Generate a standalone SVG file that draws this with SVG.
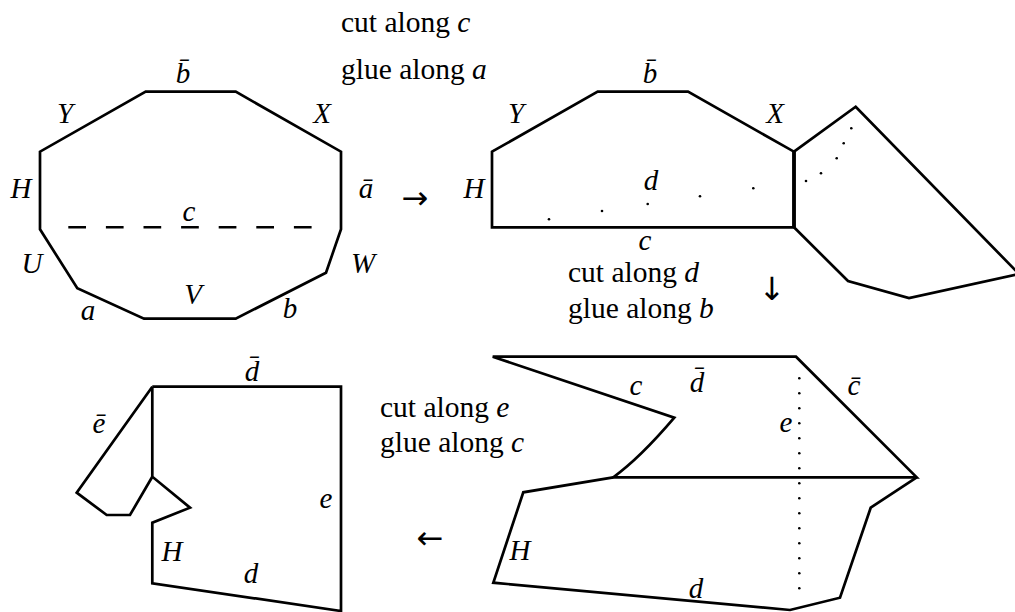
<svg xmlns="http://www.w3.org/2000/svg" width="1015" height="612" viewBox="0 0 1015 612">
<style>
.o{fill:none;stroke:#000;stroke-width:2.7;stroke-linejoin:miter}
.t{font-family:"Liberation Serif",serif;font-size:29.5px;fill:#000}
.m{font-family:"Liberation Serif",serif;font-style:italic;font-size:29px;fill:#000;text-anchor:middle}
.ar{font-family:"DejaVu Sans",sans-serif;font-size:32px;fill:#000;text-anchor:middle}
.dot{fill:#000}
</style>
<rect width="1015" height="612" fill="#fff"/>

<g id="step1">
<path class="o" d="M145.7,91.7 L235.7,91.7 L341,151.7 L341,229.3 L326,272.7 L235.7,318.7 L144,318.7 L77.3,288.3 L40,229.3 L40,151.7 Z"/>
<path d="M68.3,227.3 L312.3,227.3" stroke="#000" stroke-width="2.4" stroke-dasharray="17.7 19.9" fill="none"/>
<text class="m" x="183" y="83">b̄</text>
<text class="m" x="65" y="123">Y</text>
<text class="m" x="322" y="123">X</text>
<text class="m" x="21" y="198">H</text>
<text class="m" x="366" y="198">ā</text>
<text class="m" x="189" y="221">c</text>
<text class="m" x="32" y="273">U</text>
<text class="m" x="363" y="273">W</text>
<text class="m" x="193" y="304">V</text>
<text class="m" x="88" y="320">a</text>
<text class="m" x="290" y="318">b</text>
</g>

<g id="step2">
<path class="o" d="M492,151.7 L597.7,91.7 L688,91.7 L794,151.7 L794,227.3 L492,227.3 Z"/>
<path class="o" d="M794,151.7 L855.7,106.7 L1019,274 L909,298 L848,281 L794,227.3"/>
<path d="M794,151.7 L794,227.3" stroke="#000" stroke-width="3.8" fill="none"/>
<g class="dot">
<circle cx="549" cy="219.3" r="1.3"/>
<circle cx="602" cy="211" r="1.3"/>
<circle cx="647.7" cy="204" r="1.3"/>
<circle cx="700" cy="196.3" r="1.3"/>
<circle cx="753.3" cy="188.3" r="1.3"/>
<circle cx="806" cy="181" r="1.3"/>
<circle cx="821" cy="173.3" r="1.3"/>
<circle cx="836.7" cy="158.3" r="1.3"/>
<circle cx="843.7" cy="143.3" r="1.3"/>
<circle cx="851.3" cy="128.3" r="1.3"/>
</g>
<text class="m" x="650" y="83">b̄</text>
<text class="m" x="516" y="123">Y</text>
<text class="m" x="775" y="123">X</text>
<text class="m" x="474" y="198">H</text>
<text class="m" x="651" y="190">d</text>
<text class="m" x="645" y="250">c</text>
</g>

<g id="step3">
<path class="o" d="M492.7,356.7 L796,356.7 L916.7,477.3 L613.3,477.3 Q640,458 674.3,417.7 Z"/>
<path class="o" d="M613.3,477.3 L523.3,492.3 L493.3,582.7 L790,610 L840,597.7 L870.7,507.7 L916.7,477.3"/>
<g class="dot">
<circle cx="799.3" cy="378.3" r="1.3"/>
<circle cx="799.3" cy="393.3" r="1.3"/>
<circle cx="799.3" cy="408.3" r="1.3"/>
<circle cx="799.3" cy="423.3" r="1.3"/>
<circle cx="799.3" cy="438.3" r="1.3"/>
<circle cx="799.3" cy="453.3" r="1.3"/>
<circle cx="799.3" cy="468.3" r="1.3"/>
<circle cx="799.3" cy="483.3" r="1.3"/>
<circle cx="799.3" cy="498.3" r="1.3"/>
<circle cx="799.3" cy="513.3" r="1.3"/>
<circle cx="799.3" cy="528.3" r="1.3"/>
<circle cx="799.3" cy="543.3" r="1.3"/>
<circle cx="799.3" cy="558.3" r="1.3"/>
<circle cx="799.3" cy="573.3" r="1.3"/>
<circle cx="799.3" cy="588.3" r="1.3"/>
</g>
<text class="m" x="636" y="395">c</text>
<text class="m" x="697" y="392">d̄</text>
<text class="m" x="854" y="395">c̄</text>
<text class="m" x="786" y="432">e</text>
<text class="m" x="520" y="560">H</text>
<text class="m" x="696" y="598">d</text>
</g>

<g id="step4">
<path class="o" d="M152.3,386.7 L341,386.7 L341,612 M341,611 L152.3,583.3 L152.3,522.7 L190,507.7 L152.3,476.7 L152.3,386.7"/>
<path class="o" d="M152.3,386.7 L76.7,492.7 L106.7,515 L130,515 L152.3,476.7"/>
<text class="m" x="252" y="381">d̄</text>
<text class="m" x="99" y="433">ē</text>
<text class="m" x="326" y="508">e</text>
<text class="m" x="172" y="561">H</text>
<text class="m" x="251" y="583">d</text>
</g>

<g id="connectors">
<text class="t" x="341" y="32">cut along <tspan font-style="italic">c</tspan></text>
<text class="t" x="341" y="79">glue along <tspan font-style="italic">a</tspan></text>
<text class="ar" x="415" y="209">→</text>
<text class="t" x="568" y="282">cut along <tspan font-style="italic">d</tspan></text>
<text class="t" x="568" y="318">glue along <tspan font-style="italic">b</tspan></text>
<text class="ar" x="772" y="300">↓</text>
<text class="t" x="380" y="417">cut along <tspan font-style="italic">e</tspan></text>
<text class="t" x="380" y="452">glue along <tspan font-style="italic">c</tspan></text>
<text class="ar" x="430" y="549">←</text>
</g>
</svg>
